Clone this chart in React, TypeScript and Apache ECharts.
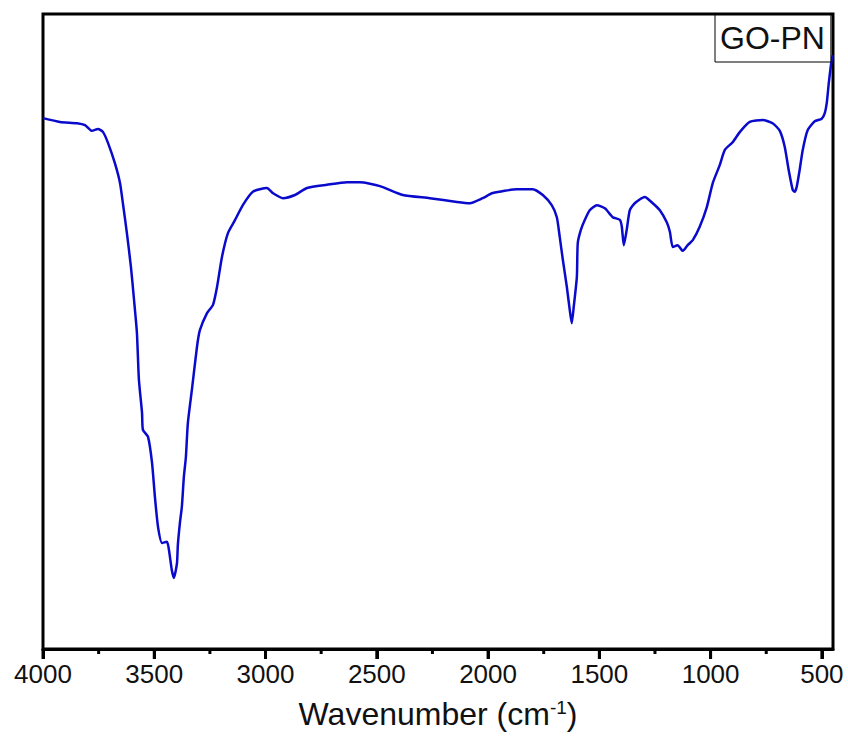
import React, { useEffect, useRef } from "react";
import * as echarts from "echarts";

const seriesName = "GO-PN";
const wavenumbers = [
  4000, 3924, 3847, 3811, 3780, 3753, 3730, 3708, 3677, 3654, 3641, 3623, 3605, 3591, 3578, 3569,
  3555, 3551, 3528, 3510, 3497, 3483, 3465, 3443, 3434, 3421, 3412, 3398, 3394, 3385, 3376, 3367,
  3358, 3349, 3331, 3308, 3295, 3263, 3236, 3218, 3196, 3169, 3138, 3102, 3057, 2994, 2967, 2922,
  2868, 2814, 2724, 2634, 2576, 2486, 2383, 2262, 2140, 2082, 2024, 1979, 1871, 1799, 1754, 1714,
  1691, 1678, 1664, 1646, 1633, 1624, 1615, 1601, 1597, 1583, 1565, 1543, 1511, 1475, 1440, 1408,
  1399, 1390, 1377, 1363, 1341, 1296, 1260, 1228, 1197, 1183, 1170, 1148, 1125, 1103, 1080, 1049,
  1017, 990, 959, 936, 901, 869, 824, 766, 721, 689, 667, 649, 631, 622, 613, 600, 586, 564, 532,
  501, 487, 478, 469, 456, 451,
];
const transmittance = [
  83.6, 83.0, 82.8, 82.5, 81.6, 81.9, 81.4, 79.7, 76.5, 73.4, 70.2, 65.5, 60.2, 55.0, 49.8, 42.4,
  37.2, 34.5, 33.4, 29.3, 23.9, 19.2, 16.7, 16.9, 15.6, 12.4, 11.2, 13.5, 16.4, 19.8, 22.4, 27.1,
  30.2, 35.6, 40.8, 47.6, 50.2, 52.9, 54.2, 57.0, 61.7, 65.5, 67.5, 69.9, 72.0, 72.6, 71.8, 71.0,
  71.5, 72.6, 73.1, 73.5, 73.5, 72.9, 71.5, 71.0, 70.4, 70.2, 71.0, 71.8, 72.4, 72.4, 71.5, 69.9,
  68.0, 64.9, 61.3, 57.0, 53.4, 51.3, 53.9, 58.6, 63.9, 66.0, 67.6, 69.1, 69.9, 69.4, 68.0, 67.6,
  66.5, 63.6, 66.0, 69.1, 70.2, 71.2, 70.2, 69.1, 67.2, 65.7, 63.3, 63.6, 62.7, 63.6, 64.4, 66.5,
  69.6, 73.4, 76.2, 78.6, 79.8, 81.4, 83.0, 83.3, 82.8, 81.6, 79.1, 75.4, 72.3, 72.0, 72.8, 75.4,
  78.6, 81.7, 83.1, 83.5, 84.4, 86.0, 89.1, 92.8, 93.5,
];
const majorTicks = [500, 1000, 1500, 2000, 2500, 3000, 3500, 4000];
const minorTicks = [750, 1250, 1750, 2250, 2750, 3250, 3750];
const xMin = 450;
const xMax = 4000;
const yMin = 0;
const yMax = 100;

export default function App() {
  const ref = useRef<HTMLDivElement>(null);
  useEffect(() => {
    if (!ref.current) return;
    const chart = echarts.init(ref.current, null, { renderer: "svg" });
    const font = "'Liberation Sans', Arial, sans-serif";
    chart.setOption({
      animation: false,
      backgroundColor: "#ffffff",
      grid: {
        left: 43,
        right: 15,
        top: 14,
        bottom: 104,
        show: true,
        borderColor: "#000",
        borderWidth: 3,
      },
      legend: {
        data: [{ name: seriesName, icon: "none" }],
        left: 715,
        top: 15,
        itemWidth: 0,
        itemHeight: 0,
        padding: [7, 6, 8, 0],
        backgroundColor: "#fff",
        borderColor: "#000",
        borderWidth: 1,
        borderRadius: 0,
        selectedMode: false,
        textStyle: { fontFamily: font, fontSize: 32, color: "#111" },
      },
      xAxis: {
        type: "value",
        min: xMin,
        max: xMax,
        inverse: true,
        position: "bottom",
        name: "Wavenumber (cm{sup|-1})",
        nameLocation: "middle",
        nameGap: 49,
        nameTextStyle: {
          fontFamily: font,
          fontSize: 32,
          color: "#111",
          rich: {
            sup: { fontFamily: font, fontSize: 19, color: "#111", verticalAlign: "top", padding: [0, 0, 12, 0] },
          },
        },
        axisLine: { show: true, lineStyle: { color: "#000", width: 3 } },
        axisTick: {
          show: true,
          inside: false,
          length: 10,
          lineStyle: { color: "#000", width: 3 },
          customValues: majorTicks,
        },
        axisLabel: {
          show: true,
          margin: 12,
          fontFamily: font,
          fontSize: 26,
          color: "#111",
          customValues: majorTicks,
          formatter: (v: number) => String(v),
        },
        splitLine: { show: false },
      },
      yAxis: {
        type: "value",
        min: yMin,
        max: yMax,
        axisLine: { show: false },
        axisTick: { show: false },
        axisLabel: { show: false },
        splitLine: { show: false },
      },
      series: [
        {
          name: seriesName,
          type: "line",
          data: wavenumbers.map((w, i) => [w, transmittance[i]]),
          showSymbol: false,
          smooth: 0.2,
          lineStyle: { color: "#0a0acc", width: 2.5, join: "round" },
          itemStyle: { color: "#0a0acc" },
        },
      ],
    });

    // Tick marks placed through the chart's own x scale
    const baseY = chart.convertToPixel({ yAxisIndex: 0 }, yMin) as number;
    const mkTick = (v: number, len: number) => {
      const px = chart.convertToPixel({ xAxisIndex: 0 }, v) as number;
      return {
        type: "rect",
        silent: true,
        z: 10,
        shape: { x: px - 1.5, y: baseY, width: 3, height: len },
        style: { fill: "#000" },
      };
    };
    chart.setOption({
      graphic: [
        ...majorTicks.map((v) => mkTick(v, 10)),
        ...minorTicks.map((v) => mkTick(v, 5)),
      ],
    });

    return () => chart.dispose();
  }, []);
  return <div ref={ref} style={{ width: 848, height: 753, position: "absolute", left: 0, top: 0 }} />;
}
